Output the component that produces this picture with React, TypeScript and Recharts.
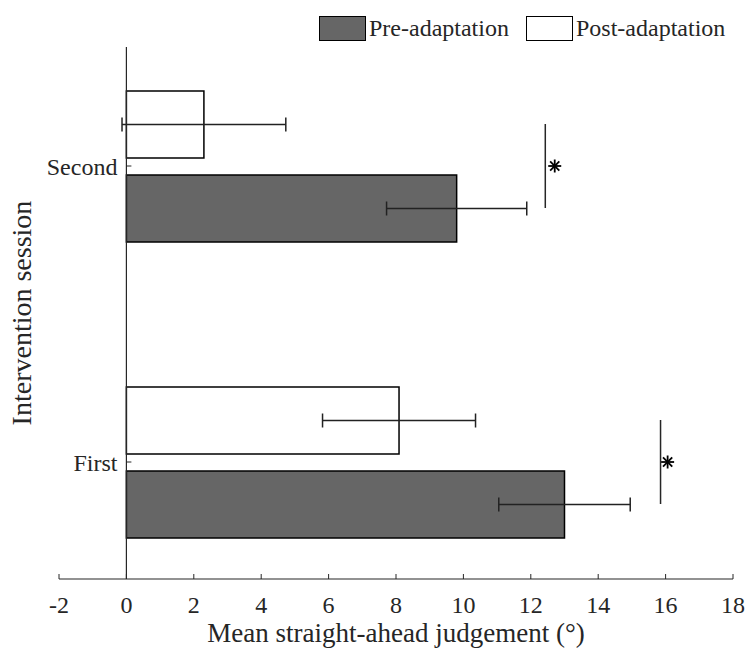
import React from 'react';
import {
  ComposedChart,
  Bar,
  ErrorBar,
  XAxis,
  YAxis,
  Scatter,
  ReferenceLine,
  Legend,
} from 'recharts';

// ---------- data ----------
const sessions = ['Second', 'First'];
const preMeans = [9.8, 13.0];
const preErrors = [2.08, 1.95];
const postMeans = [2.3, 8.09];
const postErrors = [2.43, 2.27];
const sigLineX = [12.43, 15.85];
const sigStarX = [12.71, 16.06];
const xTicks = [-2, 0, 2, 4, 6, 8, 10, 12, 14, 16, 18];
const seriesNames = ['Pre-adaptation', 'Post-adaptation'];
const xLabel = 'Mean straight-ahead judgement (°)';
const yLabel = 'Intervention session';

const data = sessions.map((s, i) => ({
  session: s,
  pre: preMeans[i],
  preErr: preErrors[i],
  post: postMeans[i],
  postErr: postErrors[i],
  sigLine: sigLineX[i],
  sigStar: sigStarX[i],
}));

// ---------- layout / style ----------
const W = 749;
const H = 652;
const X_MIN = -2;
const X_MAX = 18;
const Y_AXIS_W = 1;
const MARGIN = { top: 47, right: 16, bottom: 0, left: 58 };
const PLOT_LEFT = MARGIN.left + Y_AXIS_W;
const PLOT_W = W - PLOT_LEFT - MARGIN.right;
const ZERO_X = PLOT_LEFT + ((0 - X_MIN) / (X_MAX - X_MIN)) * PLOT_W;
const FONT = "'Liberation Serif', 'Times New Roman', serif";
const AX = '#262626';
const PRE_FILL = '#666666';
const BAR_SIZE = 67;
const BAR_GAP = 17;

const NumTick = (props: any) => {
  const { x, y, payload } = props;
  return (
    <text
      x={x}
      y={y}
      dy="0.71em"
      textAnchor="middle"
      fill={AX}
      fontSize={24}
      style={{ fontFamily: FONT, fontSize: 24 }}
    >
      {payload.value}
    </text>
  );
};

const CatTick = (props: any) => {
  const { y, payload } = props;
  return (
    <g>
      <line x1={ZERO_X} x2={ZERO_X + 5} y1={y} y2={y} stroke={AX} strokeWidth={1} />
      <text
        x={ZERO_X - 9}
        y={y}
        dy="0.355em"
        textAnchor="end"
        fill={AX}
        fontSize={24}
        style={{ fontFamily: FONT, fontSize: 24 }}
      >
        {payload.value}
      </text>
    </g>
  );
};

const SigLine = (props: any) => {
  const { cx, cy } = props;
  if (cx == null || cy == null) return null;
  const half = (BAR_SIZE + BAR_GAP) / 2;
  return <line x1={cx} x2={cx} y1={cy - half} y2={cy + half} stroke={AX} strokeWidth={1.5} />;
};

const SigStar = (props: any) => {
  const { cx, cy } = props;
  if (cx == null || cy == null) return null;
  const r = 6.5;
  const d = r * 0.707;
  return (
    <g stroke="#000" strokeWidth={1.8}>
      <line x1={cx - r} x2={cx + r} y1={cy} y2={cy} />
      <line x1={cx} x2={cx} y1={cy - r} y2={cy + r} />
      <line x1={cx - d} x2={cx + d} y1={cy - d} y2={cy + d} />
      <line x1={cx - d} x2={cx + d} y1={cy + d} y2={cy - d} />
    </g>
  );
};

const LegendContent = () => {
  const fills = [PRE_FILL, '#ffffff'];
  const lefts = [0, 207];
  return (
    <div style={{ position: 'relative', width: 430, height: 25, fontFamily: FONT }}>
      {seriesNames.map((name, i) => (
        <div
          key={name}
          style={{
            position: 'absolute',
            left: lefts[i],
            top: 0,
            display: 'flex',
            alignItems: 'center',
            height: 25,
          }}
        >
          <div
            style={{
              width: 47,
              height: 25,
              boxSizing: 'border-box',
              border: '1.5px solid #000',
              background: fills[i],
            }}
          />
          <span
            style={{
              marginLeft: 3,
              fontSize: 24,
              color: AX,
              lineHeight: '25px',
              whiteSpace: 'nowrap',
            }}
          >
            {name}
          </span>
        </div>
      ))}
    </div>
  );
};

export default function App() {
  return (
    <div
      style={{
        position: 'absolute',
        left: 0,
        top: 0,
        width: W,
        height: H,
        background: '#fff',
        fontFamily: FONT,
      }}
    >
      <ComposedChart
        width={W}
        height={H}
        data={data}
        layout="vertical"
        margin={MARGIN}
        barSize={BAR_SIZE}
        barGap={BAR_GAP}
        style={{ fontFamily: FONT }}
      >
        <XAxis
          type="number"
          domain={[X_MIN, X_MAX]}
          ticks={xTicks}
          allowDataOverflow
          height={73}
          tickSize={-5}
          tickMargin={22}
          axisLine={{ stroke: AX, strokeWidth: 1.2 }}
          tickLine={{ stroke: AX, strokeWidth: 1 }}
          tick={<NumTick />}
          label={{
            value: xLabel,
            position: 'insideBottom',
            offset: 10,
            fill: AX,
            fontSize: 27,
            fontFamily: FONT,
          }}
        />
        <YAxis
          type="category"
          dataKey="session"
          width={Y_AXIS_W}
          axisLine={false}
          tickLine={false}
          padding={{ top: -29, bottom: -31 }}
          tick={<CatTick />}
          label={{
            value: yLabel,
            angle: -90,
            position: 'left',
            offset: 37,
            fill: AX,
            fontSize: 28,
            fontFamily: FONT,
            style: { textAnchor: 'middle' },
          }}
        />
        <Legend
          verticalAlign="middle"
          align="center"
          layout="horizontal"
          wrapperStyle={{ top: 16, left: 319, width: 430, height: 25 }}
          content={<LegendContent />}
        />
        <Bar dataKey="post" name={seriesNames[1]} fill="#ffffff" stroke="#000" strokeWidth={1.5} isAnimationActive={false}>
          <ErrorBar dataKey="postErr" direction="x" width={7} stroke="#222" strokeWidth={1.5} />
        </Bar>
        <Bar dataKey="pre" name={seriesNames[0]} fill={PRE_FILL} stroke="#000" strokeWidth={1.5} isAnimationActive={false}>
          <ErrorBar dataKey="preErr" direction="x" width={7} stroke="#222" strokeWidth={1.5} />
        </Bar>
        <ReferenceLine x={0} stroke={AX} strokeWidth={1.2} />
        <Scatter dataKey="sigLine" shape={<SigLine />} isAnimationActive={false} legendType="none" />
        <Scatter dataKey="sigStar" shape={<SigStar />} isAnimationActive={false} legendType="none" />
      </ComposedChart>
    </div>
  );
}
